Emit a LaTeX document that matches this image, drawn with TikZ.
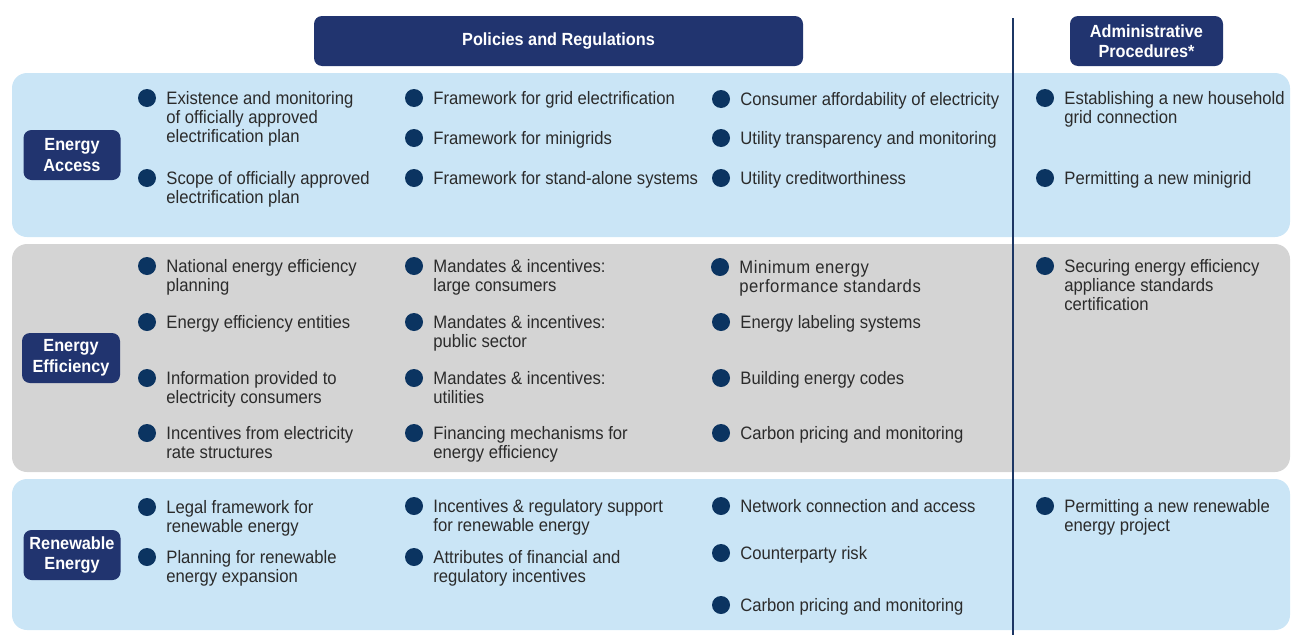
\documentclass[tikz,border=0pt]{standalone}
\usepackage{fontspec}
\setmainfont[FakeStretch=0.925]{Liberation Sans}
\usetikzlibrary{positioning}

\definecolor{navy}{HTML}{21346F}
\definecolor{dotblue}{HTML}{0B3461}
\definecolor{bandblue}{HTML}{CAE5F6}
\definecolor{bandgray}{HTML}{D4D4D4}
\definecolor{ink}{HTML}{2B2B2B}
\definecolor{rule}{HTML}{1C3664}

\tikzset{
  headbox/.style={fill=navy, rounded corners=8pt, text=white, align=center,
    minimum height=50pt, inner sep=0pt, font=\fontsize{17.6}{20.5}\selectfont\bfseries},
  sidebox/.style={headbox, minimum width=97pt},
  dot/.style={circle, fill=dotblue, inner sep=0pt, minimum size=18pt},
  item/.style={anchor=north west, inner sep=0pt, align=left, text=ink,
    font=\fontsize{18}{18.7}\selectfont},
  band/.style={rounded corners=15pt},
}

% bullet + text
\newcommand{\bulletitem}[4]{%
  \node[dot] (d-#1) at (#2,#3) {};
  \node[item] (t-#1) at ([xshift=10pt, yshift=6.5pt]d-#1.east) {#4};}

\begin{document}
\begin{tikzpicture}[x=1pt, y=-1pt]
    \useasboundingbox (0,0) rectangle (1291,635);

    % Bands
    \fill[band, bandblue] (12,73) rectangle (1290,237);
    \fill[band, bandgray] (12,244) rectangle (1290,472);
    \fill[band, bandblue] (12,479) rectangle (1290,630);

    % Divider
    \coordinate (vtop) at (1013,18);
    \coordinate (vbot) at (1013,635);
    \draw[rule, line width=2.4pt] (vtop) -- (vbot);

    % Headers
    \node[headbox, minimum width=489pt] (policies) at (558.5,41) {Policies and Regulations};
    \node[headbox, minimum width=153pt] (admin) at (1146.5,41) {Administrative\\Procedures*};

    % Row labels
    \node[sidebox] (access) at (72,155) {Energy\\Access};
    \node[sidebox, minimum width=98pt] (efficiency) at (71,358) {Energy\\Efficiency};
    \node[sidebox] (renewable) at (72,555) {Renewable\\Energy};

    % Energy access
    \bulletitem{ea1}{147}{98}{Existence and monitoring\\of officially approved\\electrification plan}
    \bulletitem{ea2}{147}{178}{Scope of officially approved\\electrification plan}
    \bulletitem{ea3}{414}{98}{Framework for grid electrification}
    \bulletitem{ea4}{414}{138}{Framework for minigrids}
    \bulletitem{ea5}{414}{178}{Framework for stand-alone systems}
    \bulletitem{ea6}{721}{99}{Consumer affordability of electricity}
    \bulletitem{ea7}{721}{138}{Utility transparency and monitoring}
    \bulletitem{ea8}{721}{178}{Utility creditworthiness}
    \bulletitem{ea9}{1045}{98}{Establishing a new household\\grid connection}
    \bulletitem{ea10}{1045}{178}{Permitting a new minigrid}

    % Energy efficiency
    \bulletitem{ee1}{147}{266}{National energy efficiency\\planning}
    \bulletitem{ee2}{147}{322}{Energy efficiency entities}
    \bulletitem{ee3}{147}{378}{Information provided to\\electricity consumers}
    \bulletitem{ee4}{147}{433}{Incentives from electricity\\rate structures}
    \bulletitem{ee5}{414}{266}{Mandates \& incentives:\\large consumers}
    \bulletitem{ee6}{414}{322}{Mandates \& incentives:\\public sector}
    \bulletitem{ee7}{414}{378}{Mandates \& incentives:\\utilities}
    \bulletitem{ee8}{414}{433}{Financing mechanisms for\\energy efficiency}
    \bulletitem{ee9}{720}{267}{\addfontfeature{LetterSpace=3}Minimum energy\\\addfontfeature{LetterSpace=3}performance standards}
    \bulletitem{ee10}{721}{322}{Energy labeling systems}
    \bulletitem{ee11}{721}{378}{Building energy codes}
    \bulletitem{ee12}{721}{433}{Carbon pricing and monitoring}
    \bulletitem{ee13}{1045}{266}{Securing energy efficiency\\appliance standards\\certification}

    % Renewable energy
    \bulletitem{re1}{147}{507}{Legal framework for\\renewable energy}
    \bulletitem{re2}{147}{557}{Planning for renewable\\energy expansion}
    \bulletitem{re3}{414}{506}{Incentives \& regulatory support\\for renewable energy}
    \bulletitem{re4}{414}{557}{Attributes of financial and\\regulatory incentives}
    \bulletitem{re5}{721}{506}{Network connection and access}
    \bulletitem{re6}{721}{553}{Counterparty risk}
    \bulletitem{re7}{721}{605}{Carbon pricing and monitoring}
    \bulletitem{re8}{1045}{506}{Permitting a new renewable\\energy project}
\end{tikzpicture}
\end{document}
